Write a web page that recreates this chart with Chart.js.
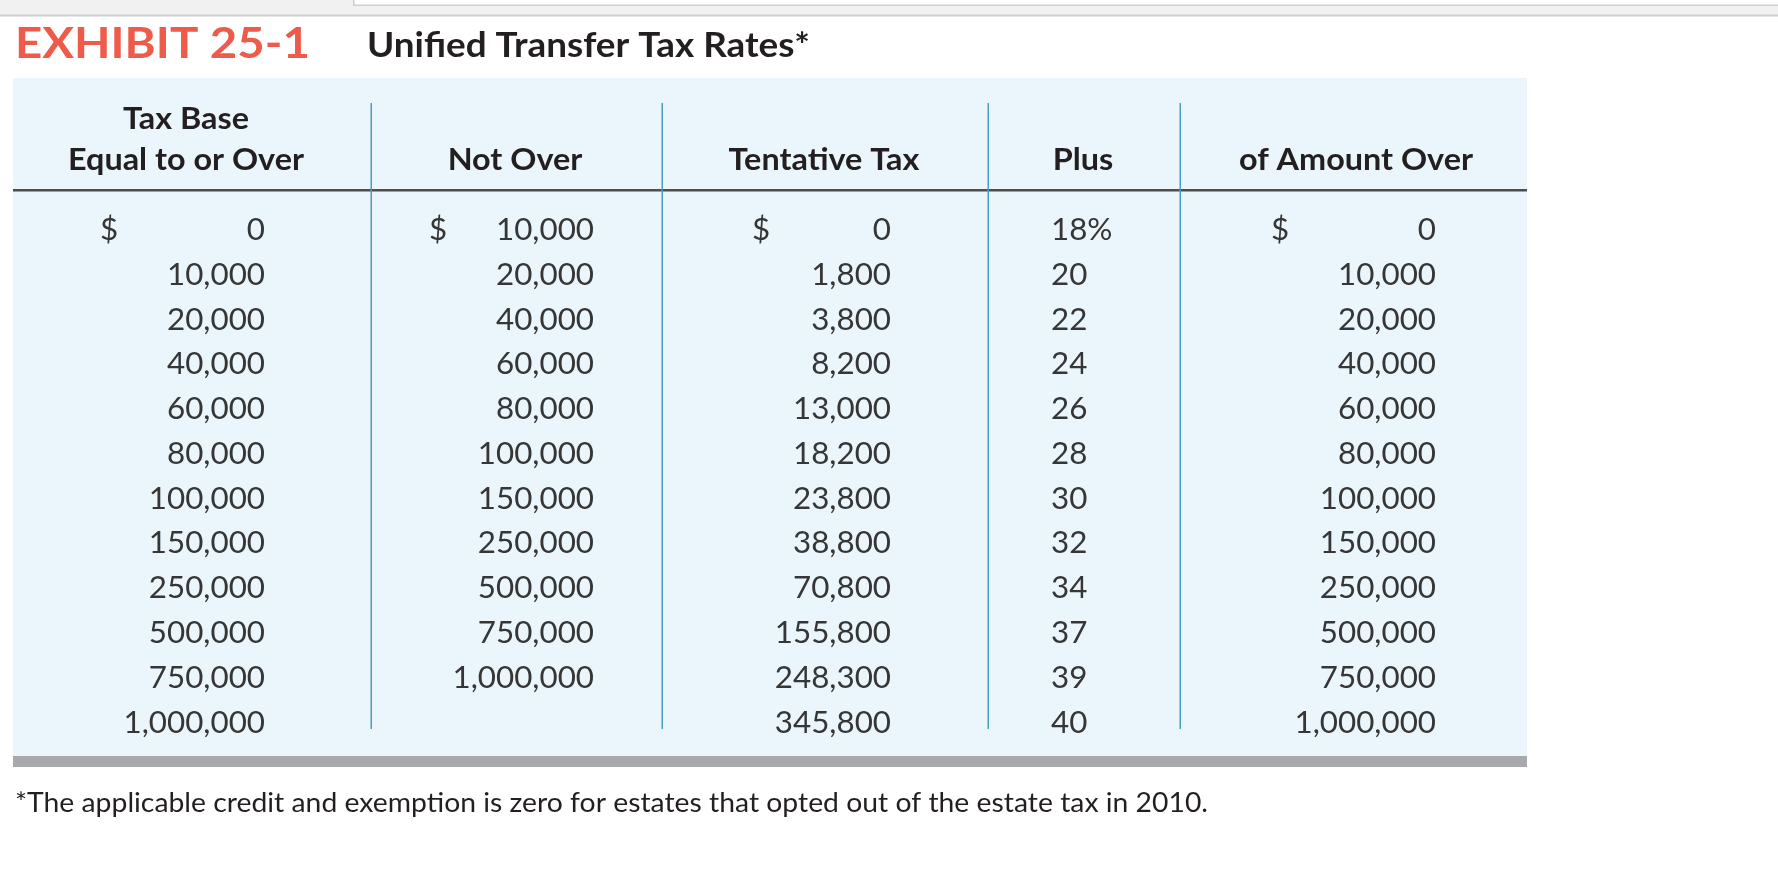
<!DOCTYPE html>
<html>
<head>
<meta charset="utf-8">
<script src="https://cdn.jsdelivr.net/npm/chart.js@4.4.0/dist/chart.umd.min.js"></script>
<style>
  html, body { margin: 0; padding: 0; background: #fff; overflow: hidden; }
  #wrap { position: relative; width: 1778px; height: 896px; }
</style>
</head>
<body>
<div id="wrap"><canvas id="table"></canvas></div>
<script>
const baseFrom = [0, 10000, 20000, 40000, 60000, 80000, 100000, 150000, 250000, 500000, 750000, 1000000];
const notOver = [10000, 20000, 40000, 60000, 80000, 100000, 150000, 250000, 500000, 750000, 1000000, null];
const tentativeTax = [0, 1800, 3800, 8200, 13000, 18200, 23800, 38800, 70800, 155800, 248300, 345800];
const ratePct = [18, 20, 22, 24, 26, 28, 30, 32, 34, 37, 39, 40];
const amountOver = [0, 10000, 20000, 40000, 60000, 80000, 100000, 150000, 250000, 500000, 750000, 1000000];

const headers = [["Tax Base", "Equal to or Over"], ["Not Over"], ["Tentative Tax"], ["Plus"], ["of Amount Over"]];
const exhibitNo = "EXHIBIT 25-1";
const titleText = "Unified Transfer Tax Rates*";
const footnote = "*The applicable credit and exemption is zero for estates that opted out of the estate tax in 2010.";

// layout, in page pixels (x scale runs 0..1778 so values = pixels)
const colEdges = [13, 371, 662, 988, 1180, 1527];
const headerCx = [186, 515, 824, 1083, 1356];
const cellAnchor = [265, 594, 891, 1051, 1436];
const cellAlign = ["right", "right", "right", "left", "right"];
const dollarX = [100, 429, 752, null, 1271];

const FONT = "Lato, 'Open Sans', sans-serif";
const columns = [baseFrom, notOver, tentativeTax, ratePct, amountOver];

function cellText(c, i, v) {
  if (c === 3) return i === 0 ? v + "%" : String(v);
  return v.toLocaleString("en-US");
}

const datasets = columns.map((vals, c) => ({
  label: headers[c].join(" "),
  data: vals
    .map((v, i) => (v === null ? null : { x: cellAnchor[c], y: i, text: cellText(c, i, v) }))
    .filter(Boolean),
  pointRadius: 0,
  showLine: false,
  colIndex: c,
}));

// draw text squeezed/stretched to a given width
function fitText(ctx, str, x, y, w, align) {
  const m = ctx.measureText(str).width;
  ctx.save();
  ctx.translate(x, y);
  ctx.scale(w / m, 1);
  ctx.textAlign = align;
  ctx.fillText(str, 0, 0);
  ctx.restore();
}

const tablePlugin = {
  id: "tablePlugin",
  beforeDatasetsDraw(chart) {
    const ctx = chart.ctx;
    const xs = chart.scales.x;
    const px = (v) => xs.getPixelForValue(v);
    const left = px(colEdges[0]), right = px(colEdges[colEdges.length - 1]);

    ctx.save();
    // browser strip along the top
    ctx.fillStyle = "#f1f1f1";
    ctx.fillRect(0, 0, chart.width, 15);
    ctx.fillStyle = "#fff";
    ctx.fillRect(px(353), 0, chart.width, 5);
    ctx.fillStyle = "#cfcfcf";
    ctx.fillRect(0, 14.5, chart.width, 2);
    ctx.fillRect(px(353), 4.5, chart.width, 1.5);
    ctx.fillRect(px(353), 0, 1.5, 5);

    // titles
    ctx.textBaseline = "alphabetic";
    ctx.fillStyle = "#ef5b4b";
    ctx.font = "700 42px " + FONT;
    fitText(ctx, exhibitNo, px(15), 58, 295, "left");
    ctx.fillStyle = "#231f20";
    ctx.font = "700 35px " + FONT;
    fitText(ctx, titleText, px(367), 57, 443, "left");

    // table panel
    ctx.fillStyle = "#eaf6fc";
    ctx.fillRect(left, 78, right - left, 678);
    ctx.fillStyle = "#a7a9ac";
    ctx.fillRect(left, 756, right - left, 11);

    // header rule
    ctx.fillStyle = "#4d4d4d";
    ctx.fillRect(left, 189, right - left, 2.5);

    // column dividers
    ctx.strokeStyle = "#4a9bbf";
    ctx.lineWidth = 1.5;
    for (let k = 1; k < colEdges.length - 1; k++) {
      const x = Math.round(px(colEdges[k])) + 0.25;
      ctx.beginPath();
      ctx.moveTo(x, 103);
      ctx.lineTo(x, 729);
      ctx.stroke();
    }

    // headers
    ctx.fillStyle = "#231f20";
    ctx.font = "700 30px " + FONT;
    const ref = ctx.measureText("Equal to or Over").width;
    const sx = 236 / ref;
    headers.forEach((lines, c) => {
      lines.forEach((t, j) => {
        const y = 170 - (lines.length - 1 - j) * 41;
        fitText(ctx, t, px(headerCx[c]), y, ctx.measureText(t).width * sx, "center");
      });
    });

    // footnote
    ctx.font = "400 27px " + FONT;
    fitText(ctx, footnote, px(15), 812, 1193, "left");
    ctx.restore();
  },
  afterDatasetsDraw(chart) {
    const ctx = chart.ctx;
    const xs = chart.scales.x;
    ctx.save();
    ctx.fillStyle = "#363636";
    ctx.font = "400 30px " + FONT;
    ctx.textBaseline = "alphabetic";
    const sx = 98 / ctx.measureText("10,000").width;
    chart.data.datasets.forEach((ds, d) => {
      const meta = chart.getDatasetMeta(d);
      const c = ds.colIndex;
      meta.data.forEach((el, i) => {
        const raw = ds.data[i];
        const w = ctx.measureText(raw.text).width * sx;
        fitText(ctx, raw.text, el.x, el.y, w, cellAlign[c]);
        if (raw.y === 0 && dollarX[c] !== null) {
          const dw = ctx.measureText("$").width * sx;
          fitText(ctx, "$", xs.getPixelForValue(dollarX[c]), el.y, dw, "left");
        }
      });
    });
    ctx.restore();
  },
};

new Chart(document.getElementById("table"), {
  type: "scatter",
  data: { datasets },
  options: {
    responsive: true,
    maintainAspectRatio: false,
    animation: false,
    events: [],
    layout: { padding: { left: 0, right: 0, top: 240, bottom: 163.5 } },
    plugins: { legend: { display: false }, tooltip: { enabled: false } },
    scales: {
      x: { type: "linear", min: 0, max: 1778, display: false },
      y: { type: "linear", min: 0, max: 11, reverse: true, display: false },
    },
  },
  plugins: [tablePlugin],
});
</script>
</body>
</html>
